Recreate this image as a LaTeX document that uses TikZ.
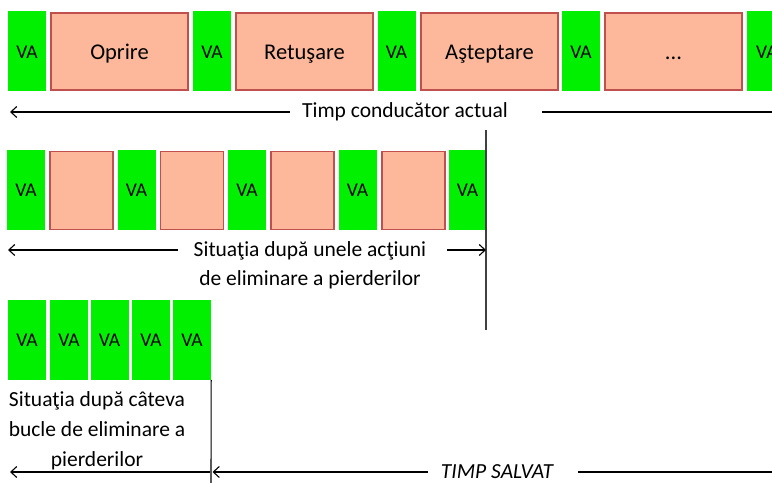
\documentclass[tikz,border=0pt]{standalone}
\usepackage{fontspec}
\setmainfont{Carlito}
\usetikzlibrary{arrows.meta}
\definecolor{vagreen}{HTML}{00F000}
\definecolor{wastefill}{HTML}{FDB89B}
\definecolor{wasteedge}{HTML}{C0504D}
\definecolor{sepgray}{HTML}{404040}
\tikzset{
  va/.style={fill=vagreen, minimum width=38bp, minimum height=80bp, inner sep=0pt,
    font=\fontsize{19.5bp}{22bp}\selectfont},
  waste/.style={fill=wastefill, draw=wasteedge, line width=1.6bp, minimum height=77bp,
    inner sep=0pt, text height=17bp, text depth=0pt, font=\fontsize{22.5bp}{25bp}\selectfont},
  lbl/.style={inner sep=2pt, align=center, font=\fontsize{21.5bp}{29bp}\selectfont},
  tline/.style={line width=1.1bp, black},
  tarrow/.style={tline, -{Straight Barb[length=6bp,width=11bp,line width=1.1bp]}},
  sep/.style={line width=1.3bp, sepgray}
}
\begin{document}
\begin{tikzpicture}[x=1bp,y=-1bp]
\useasboundingbox (0,0) rectangle (772,483);
\clip (0,0) rectangle (772,483);
% Row 1
\node[va, text height=15bp, text depth=0pt] (a1) at (27,51) {VA};
\node[waste, minimum width=137bp] (b1) at (119.5,51.5) {Oprire};
\node[va, text height=15bp, text depth=0pt] (a2) at (212,51) {VA};
\node[waste, minimum width=137bp] (b2) at (304.5,51.5) {Retuşare};
\node[va, text height=15bp, text depth=0pt] (a3) at (396.5,51) {VA};
\node[waste, minimum width=137bp] (b3) at (489.5,51.5) {Aşteptare};
\node[va, text height=15bp, text depth=0pt] (a4) at (581,51) {VA};
\node[waste, minimum width=137bp] (b4) at (673.5,51.5) {...};
\node[va, anchor=west, text width=20bp, text height=15bp, text depth=0pt] (a5) at (747,51) {VA};
\node[lbl] (t1) at (405,112) {Timp conducător actual};
\coordinate (r1l) at (10,112);
\coordinate (r1m) at (290,112);
\coordinate (r1n) at (542,112);
\coordinate (r1r) at (772,112);
\draw[tarrow] (r1m) -- (r1l);
\draw[tline] (r1n) -- (r1r);
% Row 2
\node[va] (c1) at (26,190.5) {VA};
\node[waste, minimum width=63bp, minimum height=78bp] (d1) at (81.5,190.5) {};
\node[va] (c2) at (136.5,190.5) {VA};
\node[waste, minimum width=63bp, minimum height=78bp] (d2) at (192,190.5) {};
\node[va] (c3) at (247,190.5) {VA};
\node[waste, minimum width=63bp, minimum height=78bp] (d3) at (302.5,190.5) {};
\node[va] (c4) at (357.5,190.5) {VA};
\node[waste, minimum width=63bp, minimum height=78bp] (d4) at (413.5,190.5) {};
\node[va] (c5) at (467.5,190.5) {VA};
\node[lbl] (t2) at (310,265) {Situaţia după unele acţiuni\\de eliminare a pierderilor};
\coordinate (v2t) at (486,130);
\coordinate (v2b) at (486,330);
\draw[sep] (v2t) -- (v2b);
\coordinate (r2l) at (8,250);
\coordinate (r2m) at (178,250);
\coordinate (r2n) at (447,250);
\coordinate (r2r) at (486,250);
\draw[tarrow] (r2m) -- (r2l);
\draw[tarrow] (r2n) -- (r2r);
% Row 3
\node[va] (e1) at (27,340) {VA};
\node[va] (e2) at (69,340) {VA};
\node[va] (e3) at (109.5,340) {VA};
\node[va] (e4) at (151,340) {VA};
\node[va] (e5) at (192,340) {VA};
\node[lbl, font=\fontsize{21.5bp}{30bp}\selectfont] (t3) at (97,431) {Situaţia după câteva\\bucle de eliminare a\\pierderilor};
\coordinate (v3t) at (e5.south east);
\coordinate (v3b) at (211,483);
\draw[tline] (v3t) -- (v3b);
\coordinate (r3l) at (10,472);
\coordinate (r3m) at (210,472);
\coordinate (r3n) at (212.5,472);
\coordinate (r3o) at (428,472);
\coordinate (r3p) at (578,472);
\coordinate (r3r) at (772,472);
\draw[tarrow, {Straight Barb[length=6bp,width=11bp,line width=1.1bp]}-] (r3l) -- (r3m);
\draw[tarrow] (r3o) -- (r3n);
\node[lbl, font=\fontsize{21.5bp}{25bp}\selectfont\itshape] (t4) at (497,472) {TIMP SALVAT};
\draw[tline] (r3p) -- (r3r);
\end{tikzpicture}
\end{document}
